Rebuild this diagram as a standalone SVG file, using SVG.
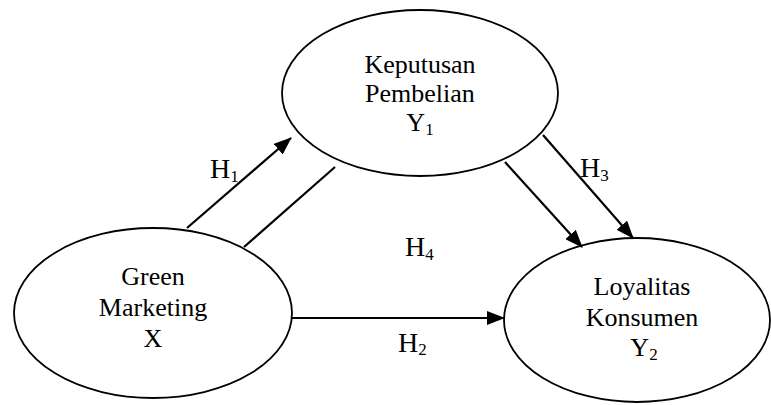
<svg xmlns="http://www.w3.org/2000/svg" width="771" height="405" viewBox="0 0 771 405">
<style>
.node{fill:#fff;stroke:#000;stroke-width:1.8}
.t{font-family:"Liberation Serif","Times New Roman",serif;font-size:26px;fill:#000;text-anchor:middle}
.h{font-family:"Liberation Serif","Times New Roman",serif;font-size:28px;fill:#000}
.sub{font-size:17px}
.c{stroke:#000;stroke-width:2.2;fill:none}
</style>
<defs>
<marker id="arr" markerUnits="userSpaceOnUse" markerWidth="18" markerHeight="14" refX="17" refY="7" orient="auto">
<path d="M0,0 L18,7 L0,14 Z" fill="#000"/>
</marker>
</defs>
<g id="keputusan">
<ellipse class="node" cx="420" cy="93" rx="138" ry="83"/>
<text class="t" x="420" y="73">Keputusan</text>
<text class="t" x="420" y="102">Pembelian</text>
<text class="t" x="420" y="131">Y<tspan class="sub" dy="4">1</tspan></text>
</g>
<g id="green">
<ellipse class="node" cx="153" cy="313" rx="139" ry="85"/>
<text class="t" x="153" y="285">Green</text>
<text class="t" x="153" y="316">Marketing</text>
<text class="t" x="153" y="347">X</text>
</g>
<g id="loyalitas">
<ellipse class="node" cx="637" cy="320" rx="133" ry="82"/>
<text class="t" x="642" y="295">Loyalitas</text>
<text class="t" x="642" y="326">Konsumen</text>
<text class="t" x="644" y="356">Y<tspan class="sub" dy="4">2</tspan></text>
</g>
<g id="connectors">
<line class="c" x1="187" y1="228" x2="291" y2="138" marker-end="url(#arr)"/>
<line class="c" x1="244" y1="247" x2="335" y2="167"/>
<line class="c" x1="543" y1="135" x2="633" y2="238" marker-end="url(#arr)"/>
<line class="c" x1="505" y1="162" x2="582" y2="247" marker-end="url(#arr)"/>
<line class="c" x1="292" y1="318" x2="504" y2="318" marker-end="url(#arr)"/>
</g>
<g id="labels">
<text class="h" x="210" y="178">H<tspan class="sub" dy="4">1</tspan></text>
<text class="h" x="580" y="177">H<tspan class="sub" dy="4">3</tspan></text>
<text class="h" x="405" y="256">H<tspan class="sub" dy="4">4</tspan></text>
<text class="h" x="398" y="352">H<tspan class="sub" dy="3">2</tspan></text>
</g>
</svg>
